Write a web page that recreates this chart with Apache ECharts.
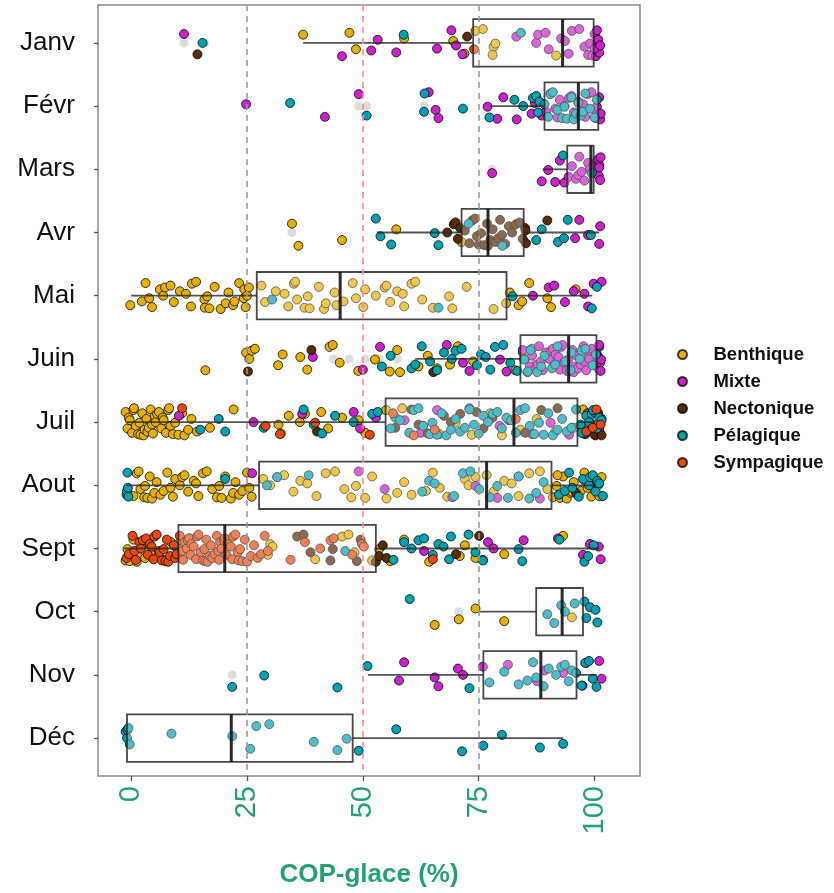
<!DOCTYPE html>
<html>
<head>
<meta charset="utf-8">
<script src="https://cdn.jsdelivr.net/npm/echarts@6/dist/echarts.min.js"></script>
<style>html,body{margin:0;padding:0;background:#fff;}#chart{width:834px;height:893px;}</style>
</head>
<body>
<div id="chart"></div>
<script>
// ---------- DATA ----------
const MONTHS = ['Janv','Févr','Mars','Avr','Mai','Juin','Juil','Aout','Sept','Oct','Nov','Déc'];
const X_TICKS = [0, 25, 50, 75, 100];
const REF_GRAY = [25, 75];
const REF_RED = [50];
const GROUPS = ['Benthique','Mixte','Nectonique','Pélagique','Sympagique'];

// box statistics per month (Janv..Déc)
const BOX_LOW  = [37.1, 77.5, 88.8, 53.0, 0.0, 61.3, -1.0, -1.0, -1.5, 75.0, 51.1, -0.9];
const BOX_Q1   = [73.8, 89.2, 94.1, 71.3, 27.1, 84.0, 54.9, 27.6, 10.2, 87.4, 76.0, -0.9];
const BOX_MED  = [93.1, 96.5, 99.2, 77.0, 45.1, 94.4, 82.6, 76.7, 20.2, 93.0, 88.4, 21.6];
const BOX_Q3   = [99.8, 100.8, 99.8, 84.7, 81.0, 100.4, 96.3, 90.7, 52.8, 97.5, 96.1, 47.8];
const BOX_HIGH = [100.5, 100.8, 100.2, 101.0, 99.5, 100.4, 100.0, 100.0, 101.0, 97.5, 100.5, 93.2];

// points: [month index (1..12), values]
const BENTHIQUE = [
  [1, [37.1,47.1,48.5,58.9,69.5,71.9,74.3,75.9,78.2,78.0,78.6,91.7]],
  [4, [34.7,36.1,45.5,57.2,71.3]],
  [5, [-0.2,2.3,3.1,3.9,4.5,6.2,6.9,7.3,8.5,9.2,10.5,11.8,12.9,13.1,14.0,15.8,15.9,16.4,16.9,18.0,19.3,20.4,21.0,22.0,22.3,23.3,24.3,24.7,24.4,25.0,25.4,28.1,28.9,31.2,33.1,33.9,35.1,35.4,35.8,37.4,38.1,38.5,40.5,41.6,42.0,43.9,44.3,45.8,47.8,48.5,50.1,50.5,52.8,54.7,55.1,55.9,57.4,58.6,58.9,60.5,61.3,62.8,65.1,68.6,69.3,72.4,78.2,80.9,81.7,83.6,84.4,85.9,89.8,90.6,95.9]],
  [6, [16.0,24.8,25.5,26.0,26.7,31.7,32.7,36.5,38.0,42.8,43.5,45.0,49.0,52.6,55.8,57.4,58.0,62.0,64.0,66.0,68.8,70.5,73.8,82.9,84.5,85.0,85.8,86.5,87.2,86.0]],
  [7, [-1.2,-0.8,-0.5,-0.3,0.2,0.5,0.6,1.0,1.5,1.8,2.0,2.4,2.7,2.9,3.3,3.5,3.8,4.2,4.5,4.7,5.1,5.3,5.6,6.0,6.5,6.8,7.0,7.5,8.0,8.2,8.5,9.0,9.5,10.2,11.0,11.5,12.3,13.0,14.2,17.0,22.1,31.8,32.3,34.0,36.4,37.5,41.0,42.5,45.5,49.1,50.5,55,58.5,63,66.5,70,73.5,77.5,80,84,87.5,91.5,95.5,97.5,99.5,101.2]],
  [8, [0.5,1.2,1.6,2.0,2.8,3.0,3.5,4.0,4.5,5.0,5.5,6.3,7.0,7.8,8.5,9.0,9.5,10.5,11.0,11.5,12.3,13.5,14.0,14.5,15.5,16.3,17.5,18.5,19.0,19.5,20.3,21.5,22.0,22.5,23.3,24.0,25.0,25.5,26.0,28.5,30.0,31.5,33.0,35.0,36.5,38.0,40.0,42.0,44.0,46.0,47.5,48.5,50.5,52.0,55.1,57.4,58.9,60.5,63.6,65.1,66.6,68.2,72.0,72.8,74.3,76.7,78.2,80.5,82.1,83.6,85.9,88.2,89.8,91.0,91.8,92.5,93.2,94.0,94.8,95.5,96.3,97.0,97.8,98.5,99.3,100.0,100.8,101.5,92.0,95.0,98.0,100.5,101.0]],
  [9, [-1.2,-0.8,-0.3,0.5,1.2,1.5,2.3,3.0,4.2,5.2,6.0,7.2,8.6,9.9,10.8,12.5,29.5,30.0,30.5,39.7,45.5,46.9,48.2,52.0,53.5,55.9,58.9,64.3,70.9,72.0,74.3,80.5,93.2]],
  [10, [65.5,70.7,74.3,80.5,95.1]]
];
const MIXTE = [
  [1, [11.4,45.5,51.8,53.2,57.2,66.0,69.1,70.1,71.5,83.1,87.4,87.8,89.4,90.1,92.8,93.6,94.4,95.1,96.7,97.8,98.6,99.0,99.5,100.0,100.3,100.5,100.8,101.0,100.0,100.5,101.2]],
  [2, [24.8,41.8,49.1,64.2,65.7,66.3,76.9,79.0,80.3,83.2,86.4,87.1,88.6,89.5,90.5,91.5,92.0,92.5,93.5,94.5,95.0,95.5,96.5,97.5,98.0,98.5,99.3,100.0,100.2,100.5,100.8,101.0,101.2,101.3]],
  [3, [77.9,88.6,90.0,91.5,92.5,93.5,94.4,95.1,96.0,96.5,96.7,97.2,97.8,98.6,99.0,100.5,100.8,100.9,101.0,101.0,101.2,101.3]],
  [4, [95.8,96.7,98.6,101.0,101.2]],
  [5, [86.7,90.1,91.3,93.6,95.5,97.8,98.6,99.8,101.5]],
  [6, [39.2,50.0,53.7,68.1,71.6,73.0,79.6,81.0,84.5,85.5,86.0,86.5,87.3,87.7,88.0,88.4,88.8,89.5,90.2,90.6,91.0,91.3,91.6,92.2,92.5,92.8,93.1,93.4,94.0,94.3,94.6,95.2,95.5,95.8,96.1,96.4,97.0,97.6,97.8,98.2,98.5,98.8,99.0,99.4,100.0,100.5,100.8,101.0,101.0,101.0,101.2,101.3,101.4]],
  [7, [10.3,26.4,36.9,48.0,49.4,52.8,59.0,62.5,66.0,73.0,79.5,86.5,90.5,94.5,98.5,100.2,101.0,101.5]],
  [8, [26.1,49.1,54.7,69.3,74.3,79.0,83.6,88.2]],
  [9, [63.2,75.9,77.0,78.2,84.7,92.1,97.5,99.0,100.9,101.3]],
  [11, [57.8,58.9,65.5,66.3,70.5,71.6,75.9,81.3,87.6,89.2,93.2,97.4,98.2,101.0,101.5]]
];
const NECTONIQUE = [
  [1, [14.3,72.5]],
  [4, [68.2,69.6,70.0,70.5,71.0,72.0,73.0,73.6,74.2,74.6,75.0,75.5,76.2,76.8,77.0,77.5,78.0,78.6,79.2,79.6,80.0,80.7,81.5,82.2,83.0,83.8,84.5,85.0,85.1,85.2,89.8]],
  [6, [25.2,38.9,65.2]],
  [7, [40.1,57.0,60.5,62.0,64.0,67.5,69.0,71.0,74.5,76.0,78.0,81.5,85.0,88.5,92.0,97.0,98.0,99.0,100.0,100.8,101.5]],
  [8, [96.0,99.8]],
  [9, [35.8,37.2,38.7,43.0,43.5,48.7,49.5,52.8,53.5,54.3,55.1,70.1,75.1]]
];
const PELAGIQUE = [
  [1, [15.4,58.8,84.1]],
  [2, [34.3,50.8,63.2,63.3,71.6,77.3,82.7,84.6,86.7,87.4,87.8,88.1,89.2,90.0,90.5,91.0,92.0,93.0,93.5,94.0,95.0,95.5,96.0,96.5,97.0,97.5,98.0,99.0,100.0,100.5]],
  [3, [93.2,99.4]],
  [4, [52.8,53.8,56.1,65.5,66.3,72.8,80.1,87.4,88.6,92.1,93.4,94.2,99.2]],
  [5, [30.4,66.3,82.3,99.4,100.5]],
  [6, [54.1,56.0,60.5,61.3,62.7,64.5,66.0,67.5,69.2,70.0,71.3,74.6,75.5,76.5,77.5,78.5,80.3,81.8,83.3,84.8,85.6,86.2,87.6,88.5,89.2,90.8,91.5,92.0,93.7,94.8,95.0,96.8,97.2,98.0,99.6,100.3]],
  [7, [14.9,18.9,20.3,28.6,37.2,39.4,41.2,44.0,48.0,52.0,53.2,56,57,58,60,61,62,63,64.5,65,66,67,68,69,70,71,72,73,74,75,76,77,78,79,80,81,82,83,84,85,86,87,88,89,90,91,92,93,94,95,96,97,97.6,98.2,98.8,99.4,100,100.5,101,101.5,97.2,99.7]],
  [8, [-1.0,-0.9,-0.8,-0.7,-0.6,20.3,29.3,31.5,38.3,62.8,64.3,65.5,69.7,71.6,73.2,75.1,77.4,79.0,81.3,83.6,85.9,87.4,89.0,92.3,93.6,94.5,95.2,96.6,97.5,98.8,99.0,99.6,100.2,100.6,101.0,101.8]],
  [9, [46.2,56.6,58.9,60.5,62.0,63.2,65.1,66.3,67.4,68.6,69.0,72.8,74.3,75.9,83.6,84.4,92.4,97.8,98.6,99.8]],
  [10, [60.1,89.8,91.3,92.8,93.6,95.7,97.8,98.2,99.0,100.2,100.6]],
  [11, [21.8,28.7,44.5,51.0,73.0,77.3,80.5,83.6,85.5,86.7,87.4,89.0,90.1,91.7,92.8,93.6,94.4,95.1,96.0,97.2,98.0,98.8,99.6,100.4]],
  [12, [-1.2,-0.9,-0.8,-0.6,-0.3,8.7,21.8,25.7,27.0,29.8,39.4,44.5,46.5,49.1,57.2,71.4,76.0,80.0,88.2,93.2]]
];
const SYMPAGIQUE = [
  [1, [74.0]],
  [7, [11.0,29.0,32.1,39.7,51.5,56.5,61.0,65.5,83.0,98.2,99.6,100.4,101.3]],
  [9, [-1.0,-0.5,0.3,0.7,1.0,1.8,2.1,2.5,3.2,3.6,4.0,4.4,4.8,5.0,5.5,6.2,6.6,7.0,7.4,7.7,8.0,8.4,9.2,9.5,9.8,10.5,11.0,11.2,11.5,12.0,12.2,12.5,12.8,13.0,13.5,14.0,14.2,14.5,15.0,15.5,15.8,16.0,16.2,16.5,17.0,17.2,17.5,18.0,18.5,18.8,19.0,19.2,19.5,20.0,20.2,20.5,21.0,21.5,21.8,22.0,22.5,23.0,23.2,23.5,24.0,24.5,25.0,25.8,26.5,27.3,28.0,28.8,29.5,34.4,37.5,40.8,43.0,43.7,47.7,49.8,50.2,65.1]]
];
// boxplot outliers (grey, drawn on the month centre line)
const OUTLIERS = [
  [1, [11.4,15.8]], [2, [49.1,50.8,63.2]], [3, [77.9]], [4, [34.7]],
  [6, [43.6,47.0,50.5,53.5,57.4]], [10, [70.7]], [11, [21.8]]
];

// ---------- STYLE ----------
const COLORS = ['#E6B000', '#CC22CC', '#5A2C04', '#00A2B2', '#E8480C'];
const JITTER = [0.04,-0.19,0.15,-0.07,0.21,-0.13,0.01,0.18,-0.22,0.09,-0.03,0.12,-0.16,0.2,-0.1,0.06,-0.2,0.17,-0.05,0.1,-0.14,0.0,0.19];
const GREEN = '#23A077';
const FONT = "'Liberation Sans', Arial, sans-serif";
const BOX_HALF = 0.375;

const counters = new Array(13).fill(0);
function buildPoints(groupRows) {
  const out = [];
  groupRows.forEach(([m, vals]) => {
    vals.forEach(v => {
      const k = (counters[m] * 7 + m * 5) % JITTER.length;
      counters[m]++;
      out.push([v, m + JITTER[k]]);
    });
  });
  return out;
}
const GROUP_ROWS = [BENTHIQUE, MIXTE, NECTONIQUE, PELAGIQUE, SYMPAGIQUE];

const outlierData = [];
OUTLIERS.forEach(([m, vals]) => vals.forEach(v => outlierData.push([v, m])));

const boxData = MONTHS.map((_, i) => [i + 1, BOX_LOW[i], BOX_Q1[i], BOX_MED[i], BOX_Q3[i], BOX_HIGH[i]]);

function renderBox(params, api) {
  const m = api.value(0);
  const lo = api.coord([api.value(1), m]);
  const q1 = api.coord([api.value(2), m]);
  const md = api.coord([api.value(3), m]);
  const q3 = api.coord([api.value(4), m]);
  const hi = api.coord([api.value(5), m]);
  const h = Math.abs(api.size([0, BOX_HALF])[1]);
  const cy = q1[1];
  const lineStyle = { stroke: 'rgba(40,40,40,0.8)', lineWidth: 1.8 };
  return {
    type: 'group',
    children: [
      { type: 'line', shape: { x1: lo[0], y1: cy, x2: q1[0], y2: cy }, style: lineStyle },
      { type: 'line', shape: { x1: q3[0], y1: cy, x2: hi[0], y2: cy }, style: lineStyle },
      { type: 'rect', shape: { x: q1[0], y: cy - h, width: q3[0] - q1[0], height: 2 * h },
        style: { fill: 'rgba(255,255,255,0.3)', stroke: 'rgba(40,40,40,0.85)', lineWidth: 1.8 } },
      { type: 'line', shape: { x1: md[0], y1: cy - h, x2: md[0], y2: cy + h },
        style: { stroke: 'rgba(20,20,20,0.9)', lineWidth: 3 } }
    ]
  };
}

const series = [
  {
    name: 'outliers', type: 'scatter', data: outlierData, symbolSize: 9, z: 1, silent: true,
    itemStyle: { color: '#D4D4D4' },
    markLine: {
      silent: true, symbol: 'none', label: { show: false }, animation: false,
      data: [
        ...REF_GRAY.map(v => ({ xAxis: v, lineStyle: { color: '#9a9a9a', type: [6, 5], width: 1.6 } })),
        ...REF_RED.map(v => ({ xAxis: v, lineStyle: { color: '#FF8C8C', type: [6, 5], width: 1.6 } }))
      ]
    }
  }
];
GROUPS.forEach((g, gi) => {
  series.push({
    name: g, type: 'scatter', z: 2,
    data: buildPoints(GROUP_ROWS[gi]),
    symbolSize: 9,
    itemStyle: { color: COLORS[gi], borderColor: 'rgba(0,0,0,0.75)', borderWidth: 1, opacity: 1 }
  });
});
series.push({
  name: 'box', type: 'custom', z: 3, silent: true,
  renderItem: renderBox, data: boxData,
  encode: { x: [1, 2, 3, 4, 5], y: 0 }
});

const chart = echarts.init(document.getElementById('chart'), null, { renderer: 'canvas' });
chart.setOption({
  animation: false,
  backgroundColor: '#fff',
  grid: { left: 98, right: 194, top: 5, bottom: 115, show: true, borderColor: '#8a8a8a', borderWidth: 1.5, backgroundColor: 'transparent' },
  legend: {
    data: GROUPS, orient: 'vertical', left: 672, top: 340,
    icon: 'circle', itemWidth: 52, itemHeight: 9, itemGap: 8,
    textStyle: { fontFamily: FONT, fontWeight: 'bold', fontSize: 18.5, color: '#111', lineHeight: 18 }
  },
  xAxis: {
    type: 'value', min: -7.16, max: 109.8,
    splitLine: { show: false },
    axisLine: { show: false, onZero: false },
    axisTick: { show: true, length: 5, customValues: X_TICKS, lineStyle: { color: '#555', width: 1.3 } },
    axisLabel: { customValues: X_TICKS, rotate: 90, margin: 10, color: GREEN, fontSize: 29, fontFamily: FONT },
    name: 'COP-glace (%)', nameLocation: 'middle', nameGap: 86,
    nameTextStyle: { color: GREEN, fontSize: 26, fontWeight: 'bold', fontFamily: FONT }
  },
  yAxis: {
    type: 'value', min: 0.4, max: 12.6, inverse: true,
    splitLine: { show: false },
    axisLine: { show: false, onZero: false },
    axisTick: { show: true, length: 4, customValues: MONTHS.map((_, i) => i + 1), lineStyle: { color: '#555', width: 1.3 } },
    axisLabel: {
      customValues: MONTHS.map((_, i) => i + 1), margin: 23,
      formatter: v => MONTHS[Math.round(v) - 1] || '',
      color: '#111', fontSize: 26, fontFamily: FONT
    }
  },
  series: series
});
</script>
</body>
</html>
